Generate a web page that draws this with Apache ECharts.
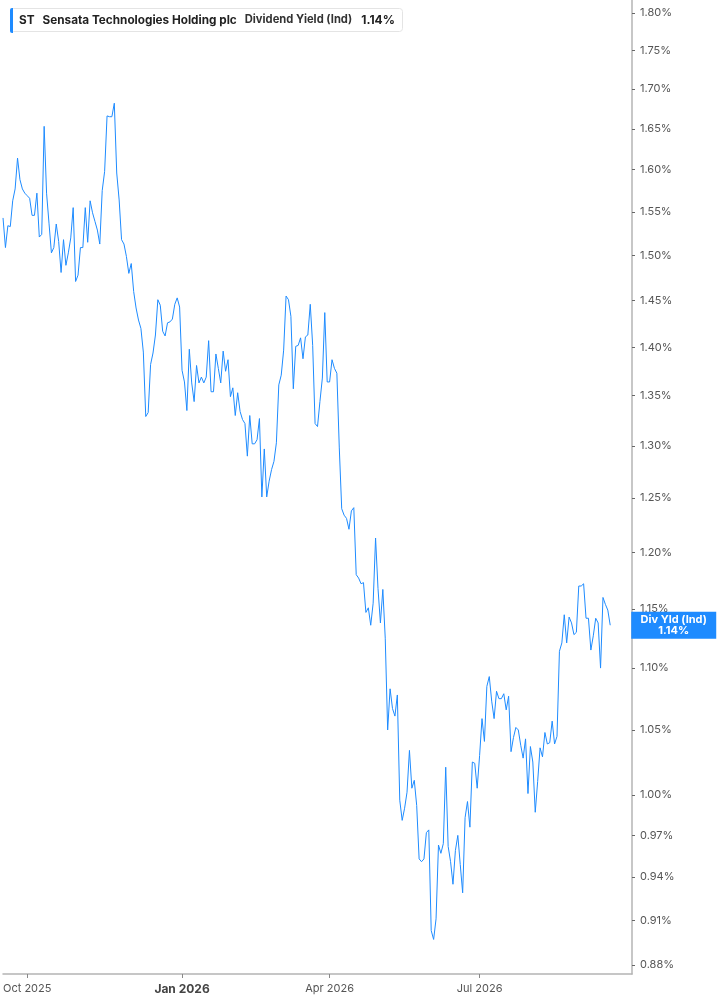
<!DOCTYPE html>
<html>
<head>
<meta charset="utf-8">
<title>ST Dividend Yield</title>
<script src="https://cdn.jsdelivr.net/npm/echarts@6/dist/echarts.min.js"></script>
<style>
html, body { margin: 0; padding: 0; background: #fff; }
#chart { width: 717px; height: 1005px; }
</style>
</head>
<body>
<div id="chart"></div>
<script>
// trading days, first one is 2025-09-17
var startDate = '2025-09-17';
var dayCount = 261;
var holidays = ['2025-11-27', '2025-12-25', '2026-01-01', '2026-01-19', '2026-02-16',
                '2026-04-03', '2026-05-25', '2026-06-19', '2026-07-03', '2026-09-07'];

// dividend yield (ind), % - one value per trading day
var yieldValues = [
  1.543, 1.509, 1.534, 1.533, 1.563, 1.577, 1.614, 1.588, 1.577, 1.572,
  1.569, 1.566, 1.546, 1.546, 1.572, 1.521, 1.524, 1.653, 1.572, 1.537,
  1.503, 1.509, 1.536, 1.516, 1.481, 1.518, 1.489, 1.503, 1.520, 1.555,
  1.471, 1.478, 1.509, 1.509, 1.555, 1.515, 1.563, 1.549, 1.539, 1.529,
  1.513, 1.575, 1.598, 1.666, 1.665, 1.665, 1.682, 1.596, 1.564, 1.518,
  1.513, 1.499, 1.480, 1.491, 1.460, 1.442, 1.429, 1.420, 1.395, 1.329,
  1.333, 1.382, 1.394, 1.413, 1.451, 1.445, 1.417, 1.412, 1.426, 1.427,
  1.430, 1.446, 1.453, 1.443, 1.376, 1.364, 1.335, 1.398, 1.363, 1.344,
  1.381, 1.363, 1.369, 1.363, 1.369, 1.407, 1.354, 1.354, 1.393, 1.378,
  1.363, 1.396, 1.375, 1.387, 1.349, 1.358, 1.330, 1.353, 1.334, 1.326,
  1.322, 1.290, 1.330, 1.302, 1.302, 1.306, 1.327, 1.251, 1.297, 1.251,
  1.266, 1.277, 1.285, 1.303, 1.361, 1.371, 1.397, 1.455, 1.451, 1.433,
  1.357, 1.401, 1.402, 1.410, 1.388, 1.411, 1.413, 1.446, 1.402, 1.322,
  1.319, 1.344, 1.368, 1.437, 1.364, 1.364, 1.387, 1.378, 1.373, 1.298,
  1.240, 1.234, 1.231, 1.221, 1.238, 1.241, 1.180, 1.177, 1.172, 1.173,
  1.147, 1.151, 1.136, 1.155, 1.213, 1.168, 1.138, 1.167, 1.125, 1.050,
  1.083, 1.067, 1.061, 1.078, 0.996, 0.981, 0.990, 1.002, 1.034, 1.005,
  1.011, 0.992, 0.953, 0.951, 0.953, 0.972, 0.974, 0.903, 0.897, 0.911,
  0.963, 0.957, 0.964, 1.021, 0.962, 0.951, 0.935, 0.959, 0.970, 0.949,
  0.929, 0.983, 0.995, 0.976, 1.025, 1.024, 1.005, 1.030, 1.059, 1.041,
  1.085, 1.093, 1.073, 1.059, 1.081, 1.075, 1.075, 1.079, 1.066, 1.077,
  1.033, 1.044, 1.052, 1.050, 1.038, 1.028, 1.043, 1.001, 1.037, 1.025,
  0.987, 1.010, 1.036, 1.029, 1.048, 1.039, 1.040, 1.057, 1.039, 1.045,
  1.114, 1.121, 1.145, 1.121, 1.143, 1.138, 1.128, 1.130, 1.170, 1.170,
  1.172, 1.142, 1.142, 1.115, 1.127, 1.142, 1.138, 1.100, 1.160, 1.154,
  1.149, 1.136
];

// y axis (log scale) tick labels
var yTicks = [1.80, 1.75, 1.70, 1.65, 1.60, 1.55, 1.50, 1.45, 1.40, 1.35, 1.30,
              1.25, 1.20, 1.15, 1.10, 1.05, 1.00, 0.97, 0.94, 0.91, 0.88];
var yMin = 0.874, yMax = 1.8177;

// x axis labels, first trading day of these months
var monthLabels = { '2025-10': 'Oct 2025', '2026-01': 'Jan 2026', '2026-04': 'Apr 2026', '2026-07': 'Jul 2026' };

function tradingDays(start, n) {
  var d = new Date(start + 'T00:00:00Z');
  var out = [];
  while (out.length < n) {
    var wd = d.getUTCDay();
    var s = d.toISOString().slice(0, 10);
    if (wd !== 0 && wd !== 6 && holidays.indexOf(s) < 0) out.push(s);
    d.setUTCDate(d.getUTCDate() + 1);
  }
  return out;
}

var dates = tradingDays(startDate, dayCount);
var labelIdx = {};
dates.forEach(function (s, i) {
  var m = s.slice(0, 7);
  if (monthLabels[m] && (i === 0 || dates[i - 1].slice(0, 7) !== m)) labelIdx[i] = true;
});
function showLabel(i) { return !!labelIdx[i]; }

var lastValue = yieldValues[yieldValues.length - 1];
var blue = '#1e8bff';
var font = 'Inter, "Noto Sans", sans-serif';

var chart = echarts.init(document.getElementById('chart'), null, { renderer: 'canvas' });

var option = {
  animation: false,
  textStyle: { fontFamily: font },
  title: {
    left: 10,
    top: 8,
    padding: [6, 8, 6, 9],
    backgroundColor: '#fff',
    borderColor: '#e4e4e4',
    borderWidth: 1,
    borderRadius: 3,
    text: '{b|ST}{b|Sensata Technologies Holding plc}{n|Dividend Yield (Ind)}{c|' + lastValue.toFixed(2) + '%}',
    textStyle: {
      rich: {
        b: { fontFamily: font, fontSize: 11.75, fontWeight: 'bold', color: '#222', padding: [0, 8, 0, 0] },
        n: { fontFamily: font, fontSize: 11.2, color: '#333', padding: [0, 9, 0, 0] },
        c: { fontFamily: font, fontSize: 12, fontWeight: 'bold', color: '#222' }
      }
    }
  },
  graphic: [{
    type: 'rect',
    left: 10,
    top: 8,
    z: 100,
    shape: { width: 3, height: 25, r: [2, 0, 0, 2] },
    style: { fill: blue }
  }],
  grid: { left: 0, right: 85, top: 0, bottom: 31 },
  xAxis: {
    type: 'category',
    data: dates,
    boundaryGap: false,
    axisLine: { show: true, onZero: false, lineStyle: { color: '#b4b4b4', width: 1.5 } },
    axisTick: { show: true, interval: showLabel, length: 4, lineStyle: { color: '#888' } },
    axisLabel: {
      interval: showLabel,
      margin: 9,
      fontFamily: font,
      fontSize: 11,
      color: '#555',
      formatter: function (val) {
        var m = val.slice(0, 7);
        return m === '2026-01' ? '{y|' + monthLabels[m] + '}' : monthLabels[m];
      },
      rich: { y: { fontFamily: font, fontSize: 12, fontWeight: 'bold', color: '#444' } }
    },
    splitLine: { show: false }
  },
  yAxis: {
    type: 'value',
    position: 'right',
    min: Math.log(yMin),
    max: Math.log(yMax),
    axisLine: { show: true, lineStyle: { color: '#b4b4b4', width: 1.5 } },
    axisTick: { show: true, customValues: yTicks.map(Math.log), length: 3, lineStyle: { color: '#666' } },
    axisLabel: {
      customValues: yTicks.map(Math.log),
      margin: 8,
      fontFamily: font,
      fontSize: 11,
      color: '#555',
      formatter: function (v) { return Math.exp(v).toFixed(2) + '%'; }
    },
    splitLine: { show: false }
  },
  series: [{
    name: 'Dividend Yield (Ind)',
    type: 'line',
    data: yieldValues.map(Math.log),
    showSymbol: false,
    silent: true,
    lineStyle: { color: blue, width: 1 },
    // current value tag, sits on the right axis
    endLabel: {
      show: true,
      distance: 21,
      padding: [2, 6, 2, 6],
      backgroundColor: blue,
      formatter: function (p) {
        return '{a|Div Yld (Ind)}\n{a|' + Math.exp(p.value).toFixed(2) + '%}';
      },
      rich: {
        a: { width: 73, align: 'center', color: '#fff', fontFamily: font, fontSize: 11, fontWeight: 'bold', lineHeight: 11.5 }
      }
    }
  }]
};

chart.setOption(option);
</script>
</body>
</html>
